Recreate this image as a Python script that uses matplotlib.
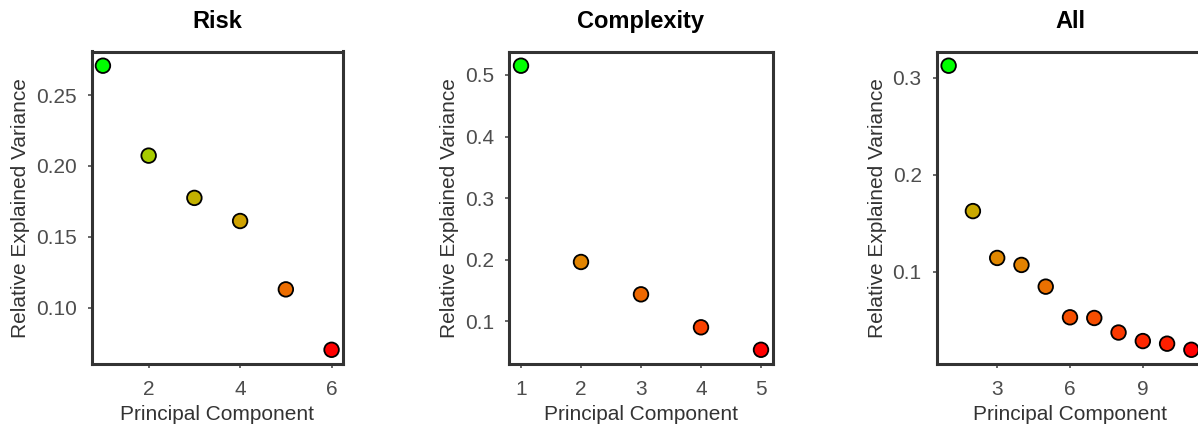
import matplotlib
matplotlib.use('Agg')
import matplotlib.pyplot as plt
import numpy as np

plt.rcParams['font.family'] = ['Liberation Sans', 'DejaVu Sans']

# 各面板数据（主成分序号 与 相对解释方差）
risk_pc = [1, 2, 3, 4, 5, 6]
risk_var = [0.2707, 0.2073, 0.1775, 0.1612, 0.1130, 0.0704]

complexity_pc = [1, 2, 3, 4, 5]
complexity_var = [0.5150, 0.1965, 0.1440, 0.0905, 0.0540]

all_pc = [1, 2, 3, 4, 5, 6, 7, 8, 9, 10, 11]
all_var = [0.3125, 0.1626, 0.1143, 0.1071, 0.0847, 0.0531, 0.0524,
           0.0374, 0.0286, 0.0259, 0.0196]

titles = ['Risk', 'Complexity', 'All']
x_ticks = [[2, 4, 6], [1, 2, 3, 4, 5], [3, 6, 9]]
y_ticks = [[0.10, 0.15, 0.20, 0.25], [0.1, 0.2, 0.3, 0.4, 0.5], [0.1, 0.2, 0.3]]
y_fmt = ['{:.2f}', '{:.1f}', '{:.1f}']


def _srgb_to_lab(rgb):
    rgb = np.asarray(rgb, dtype=float)
    lin = np.where(rgb <= 0.04045, rgb / 12.92, ((rgb + 0.055) / 1.055) ** 2.4)
    m = np.array([[0.4124, 0.3576, 0.1805],
                  [0.2126, 0.7152, 0.0722],
                  [0.0193, 0.1192, 0.9505]])
    xyz = m @ lin
    white = np.array([0.95047, 1.0, 1.08883])
    t = xyz / white
    f = np.where(t > 0.008856, np.cbrt(t), 7.787 * t + 16 / 116)
    return np.array([116 * f[1] - 16, 500 * (f[0] - f[1]), 200 * (f[1] - f[2])])


def _lab_to_srgb(lab):
    L, a, b = lab
    fy = (L + 16) / 116
    fx = fy + a / 500
    fz = fy - b / 200
    f = np.array([fx, fy, fz])
    t = np.where(f ** 3 > 0.008856, f ** 3, (f - 16 / 116) / 7.787)
    white = np.array([0.95047, 1.0, 1.08883])
    xyz = t * white
    m_inv = np.array([[3.2406, -1.5372, -0.4986],
                      [-0.9689, 1.8758, 0.0415],
                      [0.0557, -0.2040, 1.0570]])
    lin = np.clip(m_inv @ xyz, 0, 1)
    rgb = np.where(lin <= 0.0031308, 12.92 * lin, 1.055 * lin ** (1 / 2.4) - 0.055)
    return np.clip(rgb, 0, 1)


LAB_LOW = _srgb_to_lab([1, 0, 0])
LAB_HIGH = _srgb_to_lab([0, 1, 0])


def _gradient_colors(values):
    # 按数值在红→绿之间（Lab 空间）插值
    v = np.asarray(values)
    t = (v - v.min()) / (v.max() - v.min())
    return [_lab_to_srgb(LAB_LOW + (LAB_HIGH - LAB_LOW) * ti) for ti in t]


W, H = 1198, 430
fig = plt.figure(figsize=(W / 100, H / 100), dpi=100)

# 轴框位置（像素）: 左, 右, 上, 下
boxes = [(91.5, 343, 51.5, 364), (509, 773, 51.5, 364), (936.5, 1203.5, 51.5, 364)]
datasets = [(risk_pc, risk_var), (complexity_pc, complexity_var), (all_pc, all_var)]

for i, (pc, var) in enumerate(datasets):
    l, r, t, b = boxes[i]
    ax = fig.add_axes([l / W, (H - b) / H, (r - l) / W, (b - t) / H])

    x = np.array(pc, dtype=float)
    y = np.array(var)
    xr = x.max() - x.min()
    yr = y.max() - y.min()
    ax.set_xlim(x.min() - 0.05 * xr, x.max() + 0.05 * xr)
    ax.set_ylim(y.min() - 0.05 * yr, y.max() + 0.05 * yr)

    ax.scatter(x, y, s=110, c=_gradient_colors(var), edgecolors='black',
               linewidths=1.3, zorder=3, clip_on=False)

    ax.set_xticks(x_ticks[i])
    ax.set_yticks(y_ticks[i])
    ax.set_yticklabels([y_fmt[i].format(v) for v in y_ticks[i]])
    ax.tick_params(axis='both', colors='#4D4D4D', labelsize=15, length=3.2,
                   width=1.2)
    ax.tick_params(axis='x', pad=8)
    ax.tick_params(axis='y', pad=7.5)

    for sp in ax.spines.values():
        sp.set_color('#333333')
        sp.set_linewidth(2.2)
        sp.set_capstyle('projecting')

    ax.set_xlabel('Principal Component', fontsize=15, color='#333333', labelpad=5)
    ax.set_ylabel('Relative Explained Variance', fontsize=15, color='#333333', labelpad=4)
    ax.set_title(titles[i], fontsize=17, fontweight='bold', color='black', pad=17)

fig.savefig('out.png', dpi=100)
